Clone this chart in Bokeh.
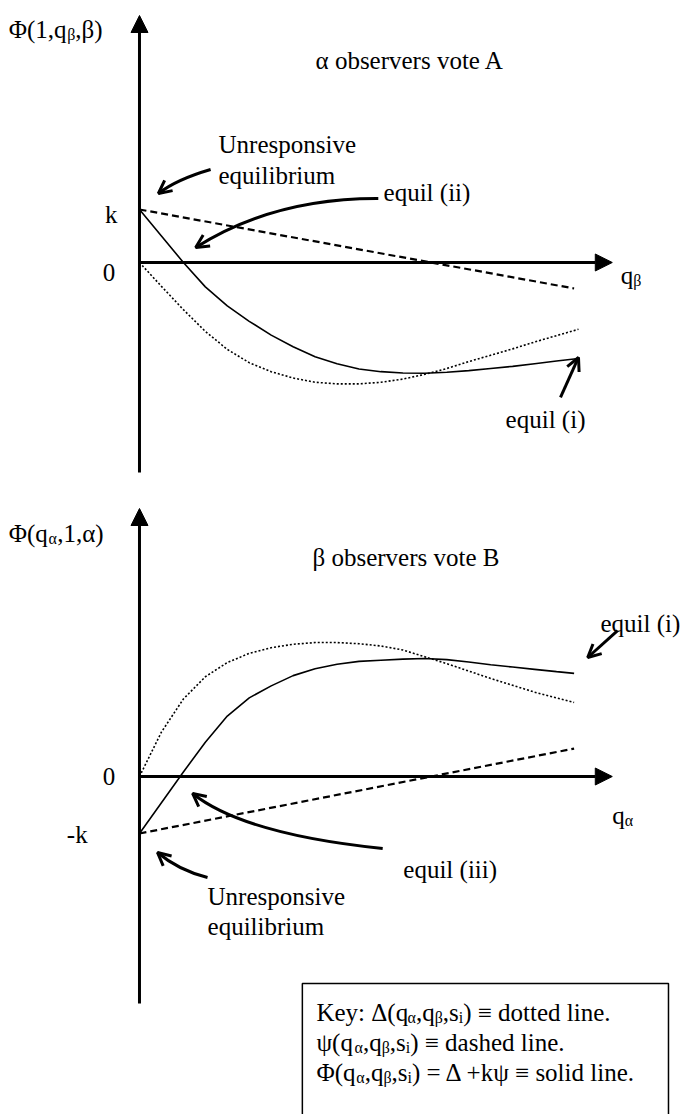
from bokeh.plotting import figure
from bokeh.layouts import column
from bokeh.models import Arrow, NormalHead, OpenHead, Range1d
from bokeh.core.properties import value
from bokeh.embed import file_html
from bokeh.resources import INLINE

# ---- upper panel: alpha observers vote A, horizontal axis q_beta ----
q_top = [0, 0.05, 0.10, 0.15, 0.20, 0.25, 0.30, 0.35, 0.40, 0.45, 0.50,
         0.55, 0.60, 0.65, 0.70, 0.75, 0.80, 0.85, 0.90, 0.95, 1.00]
delta_top = [0, -0.45, -0.89, -1.30, -1.64, -1.89, -2.06, -2.18, -2.26, -2.29, -2.29,
             -2.26, -2.20, -2.11, -2.00, -1.87, -1.75, -1.63, -1.50, -1.38, -1.26]
phi_top = [1.00, 0.50, 0.00, -0.46, -0.82, -1.11, -1.37, -1.59, -1.78, -1.91, -2.01,
           -2.06, -2.085, -2.09, -2.07, -2.04, -2.00, -1.96, -1.91, -1.86, -1.81]
q_psi_top = [0, 0.99]
psi_top = [1.0, -0.49]          # k * psi, starts at k

# ---- lower panel: beta observers vote B, horizontal axis q_alpha ----
q_bot = [0, 0.05, 0.10, 0.15, 0.20, 0.25, 0.30, 0.35, 0.40, 0.45, 0.50,
         0.55, 0.60, 0.65, 0.70, 0.75, 0.80, 0.85, 0.90, 0.95, 0.99]
delta_bot = [0, 0.78, 1.36, 1.75, 2.00, 2.16, 2.26, 2.32, 2.35, 2.35, 2.33,
             2.29, 2.22, 2.10, 1.98, 1.85, 1.72, 1.60, 1.48, 1.38, 1.30]
phi_bot = [-1.00, -0.46, 0.08, 0.60, 1.06, 1.38, 1.59, 1.77, 1.89, 1.97, 2.02,
           2.04, 2.06, 2.07, 2.05, 2.01, 1.96, 1.92, 1.88, 1.84, 1.81]
q_psi_bot = [0, 0.99]
psi_bot = [-1.0, 0.49]          # k * psi, starts at -k

FONT = value("Liberation Serif")
SIZE = 25
SUB = 16

# advance widths (1/1000 em) of the serif face, used to place subscripts
ADV = {' ': 250, '(': 333, ')': 333, ',': 250, '.': 250, ':': 278, '=': 564,
       '+': 564, '\u2261': 564, '-': 333, '0': 500, '1': 500, 'K': 722,
       'a': 444, 'd': 500, 'e': 444, 'h': 500, 'i': 278, 'k': 500, 'l': 278,
       'n': 500, 'o': 500, 'q': 500, 's': 389, 't': 278, 'y': 500,
       '\u03a6': 760, '\u0394': 612, '\u03c8': 686, '\u03b1': 540, '\u03b2': 500}


def rich(p, x, y, runs):
    """Draw a text line made of normal and subscript runs."""
    texts, xo, yo, sizes = [], [], [], []
    off = 0.0
    for txt, sub in runs:
        size = SUB if sub else SIZE
        texts.append(txt)
        xo.append(off)
        yo.append(5 if sub else 0)
        sizes.append(f"{size}px")
        off += sum(ADV.get(c, 500) for c in txt) * size / 1000.0
    n = len(texts)
    p.text(x=[x] * n, y=[y] * n, text=texts, x_offset=xo, y_offset=yo,
           text_font_size=sizes, text_font=FONT, text_color="black",
           text_align="left", text_baseline="alphabetic")


def plain(p, x, y, txt, align="left"):
    p.text(x=[x], y=[y], text=[txt], text_font=FONT, text_font_size=f"{SIZE}px",
           text_color="black", text_align=align, text_baseline="alphabetic")


def axis_arrow(p, x0, y0, x1, y1):
    p.add_layout(Arrow(end=NormalHead(size=17, fill_color="black", line_color="black"),
                       x_start=x0, y_start=y0, x_end=x1, y_end=y1,
                       line_width=3, line_color="black"))


def head(p, x0, y0, x1, y1):
    # open arrow head only, oriented from (x0, y0) towards (x1, y1)
    p.add_layout(Arrow(end=OpenHead(size=13, line_width=3, line_color="black"),
                       x_start=x0, y_start=y0, x_end=x1, y_end=y1, line_alpha=0))


def pointer(p, start, ctrl, end):
    """Curved call-out arrow drawn as a quadratic Bezier."""
    p.quadratic(x0=[start[0]], y0=[start[1]], x1=[end[0]], y1=[end[1]],
                cx=[ctrl[0]], cy=[ctrl[1]], line_width=3, line_color="black")
    head(p, ctrl[0], ctrl[1], end[0], end[1])


def straight_pointer(p, start, end):
    p.line([start[0], end[0]], [start[1], end[1]], line_width=3, line_color="black")
    head(p, start[0], start[1], end[0], end[1])


def curves(p, q, delta, phi, qpsi, psi):
    p.line(q, delta, line_width=1.6, line_color="black", line_dash="2 2")
    p.line(qpsi, psi, line_width=2.2, line_color="black", line_dash="7 4")
    p.line(q, phi, line_width=1.6, line_color="black")


def panel(h, y0, y1):
    p = figure(width=683, height=h, x_range=Range1d(-0.3166, 1.2392),
               y_range=Range1d(y0, y1), output_backend="svg", toolbar_location=None,
               min_border=0, x_axis_location=None, y_axis_location=None,
               outline_line_color=None, background_fill_color="white")
    p.grid.visible = False
    return p


# ================= upper panel =================
top = panel(490, -4.302, 4.943)
axis_arrow(top, 0, -3.962, 0, 4.660)
axis_arrow(top, 0, 0, 1.077, 0)
curves(top, q_top, delta_top, phi_top, q_psi_top, psi_top)

rich(top, -0.298, 4.40, [("\u03a6(1,q", 0), ("\u03b2", 1), (",\u03b2)", 0)])
plain(top, 0.401, 3.81, "\u03b1 observers vote A")
plain(top, 0.180, 2.22, "Unresponsive")
plain(top, 0.180, 1.65, "equilibrium")
plain(top, 0.556, 1.32, "equil (ii)")
plain(top, -0.050, 0.90, "k", align="right")
plain(top, -0.055, -0.19, "0", align="right")
rich(top, 1.096, -0.24, [("q", 0), ("\u03b2", 1)])
plain(top, 0.834, -2.96, "equil (i)")

pointer(top, (0.162, 1.755), (0.084, 1.566), (0.043, 1.302))
pointer(top, (0.544, 1.208), (0.306, 1.217), (0.128, 0.283))
straight_pointer(top, (0.959, -2.547), (1.0, -1.792))

# ================= lower panel =================
bot = panel(624, -5.930, 5.018)
axis_arrow(bot, 0, -3.982, 0, 4.702)
axis_arrow(bot, 0, 0, 1.077, 0)
curves(bot, q_bot, delta_bot, phi_bot, q_psi_bot, psi_bot)

rich(bot, -0.298, 4.26, [("\u03a6(q", 0), ("\u03b1", 1), (",1,\u03b1)", 0)])
plain(bot, 0.394, 3.84, "\u03b2 observers vote B")
plain(bot, 1.050, 2.68, "equil (i)")
plain(bot, -0.055, 0.0, "0", align="right")
plain(bot, -0.118, -1.02, "-k", align="right")
rich(bot, 1.077, -0.685, [("q", 0), ("\u03b1", 1)])
plain(bot, 0.601, -1.63, "equil (iii)")
plain(bot, 0.155, -2.105, "Unresponsive")
plain(bot, 0.155, -2.63, "equilibrium")

straight_pointer(bot, (1.089, 2.561), (1.021, 2.088))
pointer(bot, (0.554, -1.263), (0.2365, -1.0095), (0.121, -0.298))
pointer(bot, (0.155, -1.772), (0.088, -1.640), (0.041, -1.333))

# key box
bot.quad(left=[0.371], right=[1.205], top=[-3.632], bottom=[-6.5],
         fill_color="white", line_color="black", line_width=1.5)
rich(bot, 0.403, -4.140, [("Key: \u0394(q", 0), ("\u03b1", 1), (",q", 0), ("\u03b2", 1),
                          (",s", 0), ("i", 1), (") \u2261 dotted line.", 0)])
rich(bot, 0.403, -4.667, [("\u03c8(q", 0), ("\u03b1", 1), (",q", 0), ("\u03b2", 1),
                          (",s", 0), ("i", 1), (") \u2261 dashed line.", 0)])
rich(bot, 0.403, -5.193, [("\u03a6(q", 0), ("\u03b1", 1), (",q", 0), ("\u03b2", 1),
                          (",s", 0), ("i", 1), (") = \u0394 +k\u03c8 \u2261 solid line.", 0)])

layout = column(top, bot, spacing=0)
open("out.html", "w").write(file_html(layout, INLINE))
